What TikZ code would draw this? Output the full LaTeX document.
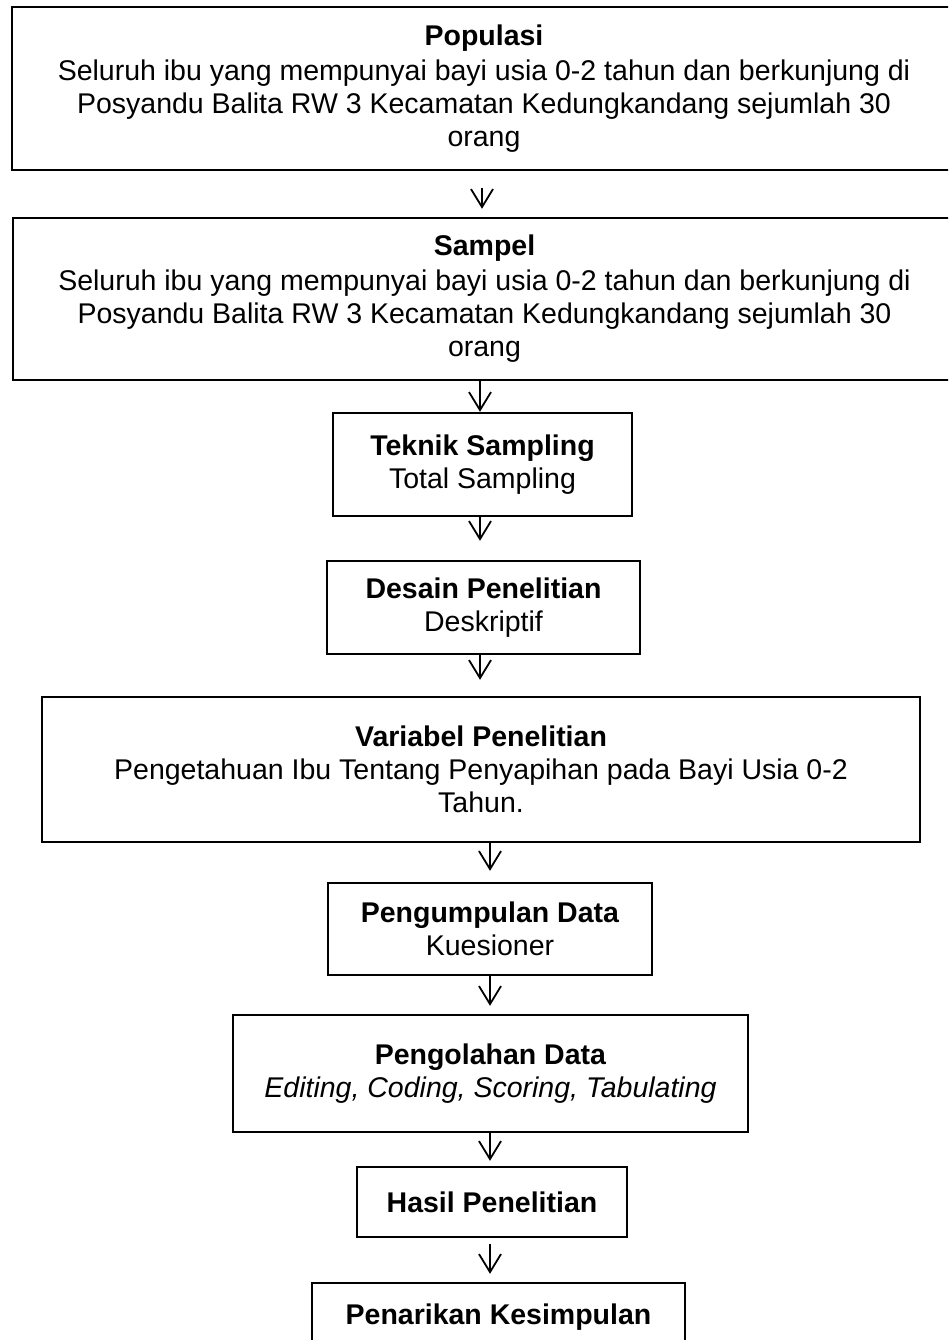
\documentclass[tikz,border=0pt]{standalone}
\usepackage{fontspec}
\setmainfont{Liberation Sans}
\usetikzlibrary{arrows.meta}
\begin{document}
\begin{tikzpicture}[x=1pt,y=-1pt,
  box/.style={draw,line width=2.4pt,rectangle,inner sep=0pt,align=center,
    font=\fontsize{28.5}{33}\selectfont},
  arr/.style={line width=1.8pt,-{Straight Barb[length=18pt,width=22pt,line width=1.8pt]}}]
\useasboundingbox (0,0) rectangle (948,1340);
\clip (0,0) rectangle (948,1340);
\fill[white] (0,0) rectangle (948,1340);
\node[box,minimum width=944pt,minimum height=163pt] (b1) at (484,88.5)
  {\textbf{Populasi}\\[2pt]Seluruh ibu yang mempunyai bayi usia 0-2 tahun dan berkunjung di\\Posyandu Balita RW 3 Kecamatan Kedungkandang sejumlah 30\\orang};
\node[box,minimum width=943pt,minimum height=162pt] (b2) at (484.5,299)
  {\textbf{Sampel}\\[2pt]Seluruh ibu yang mempunyai bayi usia 0-2 tahun dan berkunjung di\\Posyandu Balita RW 3 Kecamatan Kedungkandang sejumlah 30\\orang};
\node[box,minimum width=299pt,minimum height=103pt] (b3) at (482.5,464.5)
  {\textbf{Teknik Sampling}\\Total Sampling};
\node[box,minimum width=313pt,minimum height=93pt] (b4) at (483.5,607.5)
  {\textbf{Desain Penelitian}\\Deskriptif};
\node[box,minimum width=878pt,minimum height=145pt] (b5) at (481,769.5)
  {\textbf{Variabel Penelitian}\\Pengetahuan Ibu Tentang Penyapihan pada Bayi Usia 0-2\\Tahun.};
\node[box,minimum width=324pt,minimum height=92pt] (b6) at (490,929)
  {\textbf{Pengumpulan Data}\\Kuesioner};
\node[box,minimum width=515pt,minimum height=117pt] (b7) at (490.5,1073.5)
  {\textbf{Pengolahan Data}\\\textit{Editing, Coding, Scoring, Tabulating}};
\node[box,minimum width=270pt,minimum height=70pt] (b8) at (492,1202)
  {\textbf{Hasil Penelitian}};
\node[box,minimum width=373pt,minimum height=68pt] (b9) at (498.5,1317)
  {\textbf{Penarikan Kesimpulan}};
\coordinate (xa) at (482,0);
\coordinate (xb) at (480,0);
\coordinate (xc) at (490,0);
\draw[arr,shorten <=17pt,shorten >=8pt] (b1.south -| xa) -- (b2.north -| xa);
\draw[arr] (b2.south -| xb) -- (b3.north -| xb);
\draw[arr,shorten >=19pt] (b3.south -| xb) -- (b4.north -| xb);
\draw[arr,shorten >=16pt] (b4.south -| xb) -- (b5.north -| xb);
\draw[arr,shorten >=11pt] (b5.south -| xc) -- (b6.north -| xc);
\draw[arr,shorten >=8pt] (b6.south -| xc) -- (b7.north -| xc);
\draw[arr,shorten >=5pt] (b7.south -| xc) -- (b8.north -| xc);
\draw[arr,shorten <=6pt,shorten >=8pt] (b8.south -| xc) -- (b9.north -| xc);
\end{tikzpicture}
\end{document}
